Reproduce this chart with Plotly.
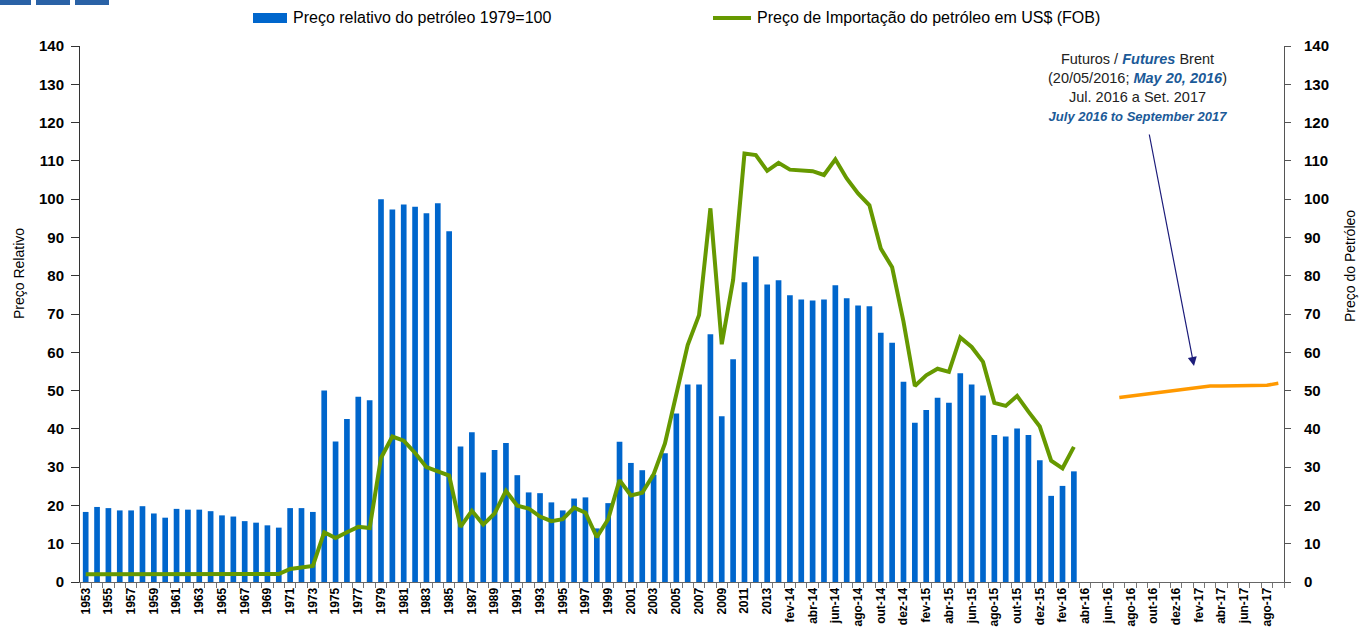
import plotly.graph_objects as go

# ---- categories: annual 1953-2013, then monthly jan-14 .. set-17 ----
years = [str(y) for y in range(1953, 2014)]
month_names = ["jan", "fev", "mar", "abr", "mai", "jun", "jul", "ago", "set", "out", "nov", "dez"]
months = [f"{m}-{yy}" for yy in (14, 15, 16, 17) for m in month_names]
months = months[:months.index("set-17") + 1]
categories = years + months

# ---- relative oil price (1979 = 100), 1953 .. mar-16 ----
relative_price = [
    18.3, 19.6, 19.3, 18.7, 18.7, 19.8, 17.9, 16.8, 19.1, 18.9,   # 1953-1962
    18.9, 18.5, 17.4, 17.1, 15.9, 15.5, 14.8, 14.2, 19.3, 19.3,   # 1963-1972
    18.3, 50.0, 36.7, 42.6, 48.4, 47.5, 100.0, 97.3, 98.6, 98.0,  # 1973-1982
    96.3, 98.9, 91.6, 35.4, 39.1, 28.6, 34.5, 36.3, 27.9, 23.4,   # 1983-1992
    23.2, 20.8, 18.7, 21.8, 22.1, 14.0, 20.6, 36.6, 31.1, 29.2,   # 1993-2002
    28.0, 33.6, 44.0, 51.6, 51.6, 64.7, 43.3, 58.2, 78.3, 85.0,   # 2003-2012
    77.7,                                                         # 2013
    78.8, 74.9, 73.8, 73.5, 73.8, 77.5, 74.1, 72.2, 72.0, 65.1, 62.5, 52.3,  # 2014
    41.6, 44.9, 48.1, 46.8, 54.5, 51.6, 48.7, 38.4, 38.0, 40.1, 38.4, 31.8,  # 2015
    22.5, 25.1, 28.9,                                                        # 2016
]

# ---- oil import price, US$ (FOB), 1953 .. mar-16 ----
import_price = [
    2.0, 2.0, 2.0, 2.0, 2.1, 2.2, 2.0, 2.0, 2.1, 2.1,             # 1953-1962
    2.1, 2.1, 2.1, 2.1, 2.1, 2.1, 2.1, 2.1, 3.4, 3.8,             # 1963-1972
    4.2, 13.0, 11.5, 13.0, 14.4, 14.1, 32.4, 38.0, 36.9, 33.7,    # 1973-1982
    30.0, 28.9, 27.8, 14.4, 18.6, 15.0, 17.9, 23.8, 19.9, 19.2,   # 1983-1992
    17.1, 15.9, 16.4, 19.4, 18.1, 11.7, 16.4, 26.6, 22.6, 23.3,   # 1993-2002
    28.1, 36.2, 49.3, 61.9, 69.7, 97.6, 62.1, 78.9, 111.9, 111.5, # 2003-2012
    107.4,                                                        # 2013
    109.5, 107.7, 107.6, 107.3, 106.3, 110.4, 105.4, 101.5, 98.4, 87.1, 82.2, 68.0,  # 2014
    51.2, 54.0, 55.7, 54.9, 63.9, 61.4, 57.5, 46.8, 46.0, 48.6, 44.5, 40.6,          # 2015
    31.7, 29.7, 35.3,                                                                # 2016
]

# ---- Brent futures (20/05/2016), jul-16 .. set-17 ----
futures_cats = months[months.index("jul-16"):]
futures_price = [48.2, 48.6, 49.0, 49.4, 49.8, 50.1, 50.4, 50.8, 51.2, 51.2,
                 51.3, 51.4, 51.3, 51.4, 51.9]

hist_cats = categories[:len(relative_price)]

# tick labels on every other category
tick_labels = [c if i % 2 == 0 else "" for i, c in enumerate(categories)]

BAR_NAME = "Preço relativo do petróleo 1979=100"
LINE_NAME = "Preço de Importação do petróleo em US$ (FOB)"

FONT = "Liberation Sans, Arial, sans-serif"
BLUE = "#0066CC"
GREEN = "#669900"
ORANGE = "#FF9900"
TEXT_BLUE = "#1B5A98"

fig = go.Figure()

fig.add_trace(go.Bar(
    x=hist_cats, y=relative_price, name=BAR_NAME,
    marker=dict(color=BLUE, line=dict(width=0)),
    yaxis="y",
))

fig.add_trace(go.Scatter(
    x=hist_cats, y=import_price, name=LINE_NAME,
    mode="lines", line=dict(color=GREEN, width=4),
    yaxis="y2",
))

fig.add_trace(go.Scatter(
    x=futures_cats, y=futures_price, name="Futuros Brent",
    mode="lines", line=dict(color=ORANGE, width=3.5),
    yaxis="y2",
))

W, H = 1363, 631
ML, MR, MT, MB = 80, 79, 46, 49
PW = W - ML - MR
PH = H - MT - MB


def px_x(px):
    return (px - ML) / PW


def px_y(py):
    return (H - MB - py) / PH


annotations = [
    # axis titles
    dict(text="Preço Relativo", xref="paper", yref="paper",
         x=px_x(19), y=px_y(274), textangle=-90, showarrow=False,
         font=dict(family=FONT, size=14, color="#000000"),
         xanchor="center", yanchor="middle"),
    dict(text="Preço do Petróleo", xref="paper", yref="paper",
         x=px_x(1350), y=px_y(266), textangle=-90, showarrow=False,
         font=dict(family=FONT, size=14, color="#000000"),
         xanchor="center", yanchor="middle"),
    # legend labels
    dict(text=BAR_NAME, xref="paper", yref="paper", x=px_x(291), y=px_y(18),
         showarrow=False, xanchor="left", yanchor="middle",
         font=dict(family=FONT, size=16, color="#000000")),
    dict(text=LINE_NAME, xref="paper", yref="paper", x=px_x(755), y=px_y(18),
         showarrow=False, xanchor="left", yanchor="middle",
         font=dict(family=FONT, size=16, color="#000000")),
    # futures note
    dict(text=(f"Futuros / <span style='color:{TEXT_BLUE}'><b><i>Futures</i></b></span> Brent<br>"
               f"(20/05/2016; <span style='color:{TEXT_BLUE}'><b><i>May 20, 2016</i></b></span>)<br>"
               "Jul. 2016 a Set. 2017<br>"
               f"<span style='color:{TEXT_BLUE};font-size:13px'><b><i>July 2016 to September 2017</i></b></span>"),
         xref="paper", yref="paper", x=px_x(1137), y=px_y(87), showarrow=False,
         align="center", xanchor="center", yanchor="middle",
         font=dict(family=FONT, size=14.5, color="#222222")),
    # arrow pointing to the futures curve
    dict(text="", xref="paper", yref="paper", x=px_x(1194), y=px_y(366),
         ax=1149 - 1194, ay=133 - 366, axref="pixel", ayref="pixel",
         showarrow=True, arrowhead=2, arrowsize=1.5, arrowwidth=1.2,
         arrowcolor="#1C1C7A", standoff=0),
]

shapes = []
# small header blocks at the top-left corner
for x0, x1 in [(0, 31), (36, 70), (75, 109)]:
    shapes.append(dict(type="rect", xref="paper", yref="paper",
                       x0=px_x(x0), x1=px_x(x1), y0=px_y(5), y1=px_y(0),
                       fillcolor="#2A62A6", line=dict(width=0), layer="above"))
# legend keys
shapes.append(dict(type="rect", xref="paper", yref="paper",
                   x0=px_x(253), x1=px_x(287), y0=px_y(23), y1=px_y(13),
                   fillcolor=BLUE, line=dict(width=0)))
shapes.append(dict(type="line", xref="paper", yref="paper",
                   x0=px_x(713), x1=px_x(751), y0=px_y(18), y1=px_y(18),
                   line=dict(color=GREEN, width=4)))

tick_font = dict(family=FONT, size=15, color="#000000", weight="bold")

fig.update_layout(
    width=W, height=H, autosize=False,
    margin=dict(l=ML, r=MR, t=MT, b=MB, pad=0),
    paper_bgcolor="white", plot_bgcolor="white",
    font=dict(family=FONT, color="#000000"),
    bargap=0.5,
    showlegend=False,
    xaxis=dict(
        type="category", categoryorder="array", categoryarray=categories,
        range=[-0.5, len(categories) - 0.5],
        tickmode="array", tickvals=categories, ticktext=tick_labels,
        tickson="boundaries", ticks="outside", ticklen=5, tickcolor="#777777",
        tickangle=-90, tickfont=dict(family=FONT, size=12, color="#000000", weight="bold"),
        showline=True, linecolor="#666666", linewidth=1,
        showgrid=False, zeroline=False, fixedrange=True, automargin=False,
    ),
    yaxis=dict(
        range=[0, 140], dtick=10, tick0=0,
        ticks="outside", ticklen=8, tickcolor="#333333",
        tickfont=tick_font, ticklabelstandoff=4,
        showline=True, linecolor="#333333", linewidth=1,
        showgrid=False, zeroline=False, fixedrange=True, automargin=False,
    ),
    yaxis2=dict(
        range=[0, 140], dtick=10, tick0=0,
        overlaying="y", side="right",
        ticks="outside", ticklen=6, tickcolor="#555555",
        tickfont=tick_font, ticklabelstandoff=10,
        showline=True, linecolor="#555555", linewidth=1,
        showgrid=False, zeroline=False, fixedrange=True, automargin=False,
    ),
    annotations=annotations,
    shapes=shapes,
)

fig.write_html("out.html")
